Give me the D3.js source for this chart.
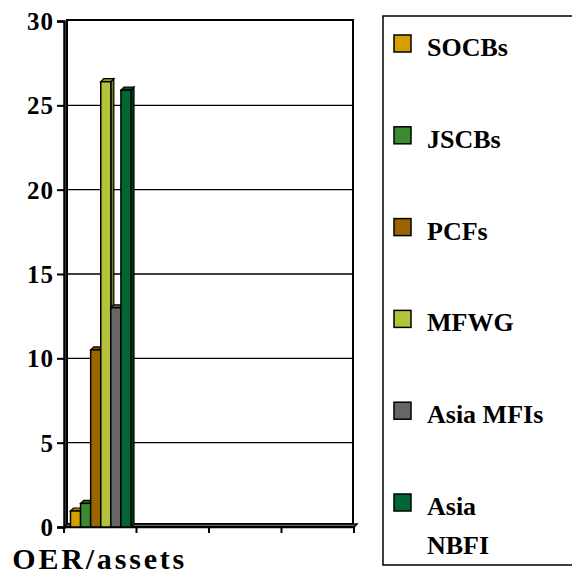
<!DOCTYPE html>
<html><head><meta charset="utf-8">
<script src="https://cdn.jsdelivr.net/npm/d3@7"></script>
<style>body{margin:0;background:#fff}svg{display:block}</style>
</head><body>
<script>
const categories = ["OER/assets", "cat2", "cat3", "cat4"];
const seriesNames = ["SOCBs", "JSCBs", "PCFs", "MFWG", "Asia MFIs", "Asia NBFI"];
const seriesColors = ["#D4A000", "#3A8A30", "#9A6400", "#B5C23C", "#666666", "#006633"];
const values = {
  "SOCBs":     [0.95, null, null, null],
  "JSCBs":     [1.4,  null, null, null],
  "PCFs":      [10.5, null, null, null],
  "MFWG":      [26.4, null, null, null],
  "Asia MFIs": [13.0, null, null, null],
  "Asia NBFI": [25.9, null, null, null]
};
const yTicks = [0, 5, 10, 15, 20, 25, 30];
const categoryLabels = ["OER/assets", "", "", ""];
const legendLines = [["SOCBs"], ["JSCBs"], ["PCFs"], ["MFWG"], ["Asia MFIs"], ["Asia", "NBFI"]];

const W = 572, H = 575;
const svg = d3.select("body").append("svg").attr("width", W).attr("height", H);
const font = '"Liberation Serif"';
const d = 3; // 3D depth

const y = d3.scaleLinear().domain([0, 30]).range([527, 21]);
const x = d3.scaleBand().domain(categories).range([64, 354]).padding(0);

// back wall frame
const backL = 64 + d, backR = 354 - 1, backT = y(30) - 1, backB = y(0) - d;
svg.append("rect").attr("x", backL).attr("y", backT).attr("width", backR - backL).attr("height", backB - backT)
  .attr("fill", "#fff").attr("stroke", "#000").attr("stroke-width", 2);

// gridlines
svg.append("g").selectAll("line").data(yTicks.filter(t => t > 0 && t < 30)).join("line")
  .attr("x1", backL).attr("x2", backR).attr("y1", t => y(t)).attr("y2", t => y(t))
  .attr("stroke", "#000").attr("stroke-width", 1.3);

// floor
svg.append("polygon")
  .attr("points", [[64, y(0)], [354, y(0)], [354 + d, y(0) - d], [64 + d, y(0) - d]].map(p => p.join(",")).join(" "))
  .attr("fill", "#808080").attr("stroke", "#000").attr("stroke-width", 1.5);

// y axis
const yAxis = d3.axisLeft(y).tickValues(yTicks).tickSize(7).tickPadding(3).tickFormat(d3.format("d"));
const gy = svg.append("g").attr("transform", "translate(64,0)").call(yAxis);
gy.attr("font-family", null).attr("font-size", null);
gy.select(".domain").attr("stroke-width", 2.5);
gy.selectAll(".tick line").attr("stroke-width", 2);
gy.selectAll(".tick text").style("font-family", font).style("font-weight", "bold")
  .style("font-size", "25px").style("letter-spacing", "1px").attr("fill", "#000").attr("dy", "0.34em");

// x axis ticks at band boundaries
const bounds = categories.map(c => x(c)).concat([x.range()[1]]);
svg.append("line").attr("x1", 64).attr("x2", 354).attr("y1", y(0)).attr("y2", y(0))
  .attr("stroke", "#000").attr("stroke-width", 2.5);
svg.append("g").selectAll("line").data(bounds).join("line")
  .attr("x1", b => b).attr("x2", b => b).attr("y1", y(0)).attr("y2", y(0) + 6)
  .attr("stroke", "#000").attr("stroke-width", 2);

// category labels
svg.append("g").selectAll("text").data(categories).join("text")
  .attr("x", c => x(c) + x.bandwidth() / 2 - 2).attr("y", 569)
  .attr("text-anchor", "middle")
  .style("font-family", font).style("font-weight", "bold").style("font-size", "30px")
  .attr("fill", "#000")
  .attr("textLength", (c, i) => categoryLabels[i] ? 172 : null)
  .attr("lengthAdjust", "spacing")
  .text((c, i) => categoryLabels[i]);

// bars
const inner = d3.scaleBand().domain(seriesNames).range([6.5, 67]).padding(0);
const bw = inner.bandwidth();
function shade(c, k) { return d3.color(c).darker(k).formatHex(); }
const barData = [];
categories.forEach((c, ci) => {
  seriesNames.forEach((s, si) => {
    const v = values[s][ci];
    if (v != null) barData.push({c, s, v, color: seriesColors[si]});
  });
});
const bars = svg.append("g").selectAll("g").data(barData).join("g");
bars.each(function(b) {
  const g = d3.select(this);
  const x0 = x(b.c) + inner(b.s), x1 = x0 + bw;
  const yt = y(b.v), yb = y(0);
  g.append("polygon")
    .attr("points", [[x1, yt], [x1 + d, yt - d], [x1 + d, yb - d], [x1, yb]].map(p => p.join(",")).join(" "))
    .attr("fill", shade(b.color, 1.2)).attr("stroke", "#000").attr("stroke-width", 1.2);
  g.append("polygon")
    .attr("points", [[x0, yt], [x0 + d, yt - d], [x1 + d, yt - d], [x1, yt]].map(p => p.join(",")).join(" "))
    .attr("fill", shade(b.color, 0.6)).attr("stroke", "#000").attr("stroke-width", 1.2);
  g.append("rect").attr("x", x0).attr("y", yt).attr("width", bw).attr("height", yb - yt)
    .attr("fill", b.color).attr("stroke", "#000").attr("stroke-width", 1.5);
});

// legend
const lg = svg.append("g");
lg.append("rect").attr("x", 383).attr("y", 16).attr("width", 200).attr("height", 549)
  .attr("fill", "#fff").attr("stroke", "#000").attr("stroke-width", 1.5);
const step = 91.8;
seriesNames.forEach((s, i) => {
  const base = 56 + i * step;
  lg.append("rect").attr("x", 394).attr("y", base - 21).attr("width", 17).attr("height", 17)
    .attr("fill", seriesColors[i]).attr("stroke", "#000").attr("stroke-width", 1.5);
  legendLines[i].forEach((t, j) => {
    lg.append("text").attr("x", 427).attr("y", base + j * 39)
      .style("font-family", font).style("font-weight", "bold").style("font-size", "26px")
      .attr("fill", "#000")
      .text(t);
  });
});
</script>
</body></html>
